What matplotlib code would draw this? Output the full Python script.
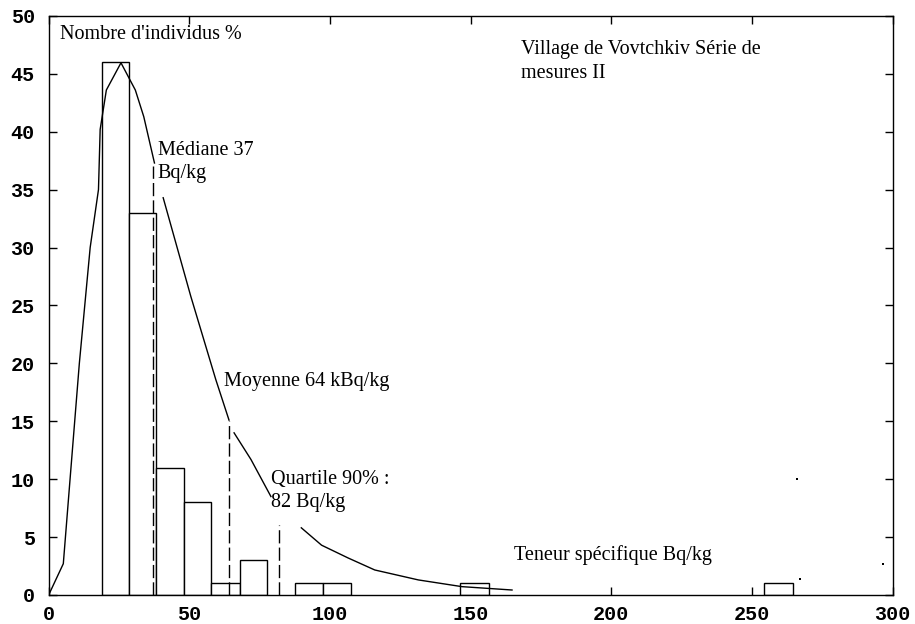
import numpy as np
import matplotlib
matplotlib.use('Agg')
import matplotlib.pyplot as plt

# histogram bins (Bq/kg) and share of individuals (%)
bin_lo = [19, 28.7, 38.1, 48.1, 57.7, 68, 87.6, 97.4, 146.3, 254.4]
bin_hi = [28.7, 38.1, 48.1, 57.7, 68, 77.7, 97.4, 107.4, 156.4, 264.5]
counts = [46, 33, 11, 8, 1, 3, 1, 1, 1, 1]

# fitted curve, broken where the labels sit
curve_x = [0, 5.2, 7.6, 10.9, 14.75, 17.7, 18.3, 20.5, 25.7, 30.8, 33.8, 37.6,
           np.nan,
           40.7, 50.5, 59.4, 64.1, np.nan,
           65.9, 71.9, 79, np.nan,
           89.8, 97, 106.4, 115.9, 131.4, 146.9, 164.7]
curve_y = [0, 2.7, 10, 20, 30, 35, 40.2, 43.6, 45.95, 43.6, 41.3, 37.3,
           np.nan,
           34.3, 25.8, 18.6, 15.1, np.nan,
           14, 11.7, 8.5, np.nan,
           5.8, 4.3, 3.2, 2.16, 1.3, 0.72, 0.43]

# median / mean / 90% quantile markers
stat_x = [37, 64, 82]
stat_top = [37, 15, 6]

# stray dots of the scan
dot_x = [265.9, 267, 296.6]
dot_y = [10, 1.4, 2.7]

xticks = [0, 50, 100, 150, 200, 250, 300]
yticks = list(range(0, 55, 5))

fig = plt.figure(figsize=(9.15, 6.24), dpi=100)
ax = fig.add_axes([0.0532, 0.0465, 0.9224, 0.928])

widths = [h - l for l, h in zip(bin_lo, bin_hi)]
ax.bar(bin_lo, counts, width=widths, align='edge', color='white',
       edgecolor='black', linewidth=1.0, zorder=2)
ax.plot(curve_x, curve_y, color='black', linewidth=1.0, zorder=3)
ax.vlines(stat_x, 0, stat_top, colors='black', linewidth=1.0,
          linestyles=(0, (9.5, 3)), zorder=4)
ax.scatter(dot_x, dot_y, s=1.5, color='black', marker='s', linewidths=0)

# multi-line labels: y is the baseline of the last line
serif = 'Liberation Serif'
fs = 14.5
ax.text(4, 48.0, "Nombre d'individus %", family=serif, fontsize=fs,
        va='baseline')
ax.text(167.8, 44.6, "Village de Vovtchkiv Série de\nmesures II", family=serif,
        fontsize=fs, va='baseline', linespacing=1.4)
ax.text(38.8, 36.0, "Médiane 37\nBq/kg", family=serif, fontsize=fs,
        va='baseline', linespacing=1.3)
ax.text(62.3, 18.06, "Moyenne 64 kBq/kg", family=serif, fontsize=fs,
        va='baseline')
ax.text(79, 7.6, "Quartile 90% :\n82 Bq/kg", family=serif, fontsize=fs,
        va='baseline', linespacing=1.25)
ax.text(165.4, 3.02, "Teneur spécifique Bq/kg", family=serif, fontsize=fs,
        va='baseline')

ax.set_xlim(0, 300)
ax.set_ylim(0, 50)
ax.set_xticks(xticks)
ax.set_yticks(yticks)
ax.tick_params(direction='in', length=6, width=1.0, top=True, right=True,
               labelsize=14.5, pad=7)
ax.tick_params(axis='y', pad=10)
for lab in ax.get_xticklabels() + ax.get_yticklabels():
    lab.set_family('Liberation Mono')
    lab.set_fontweight('bold')
for sp in ax.spines.values():
    sp.set_linewidth(1.0)

fig.savefig('out.png', dpi=100, facecolor='white')
